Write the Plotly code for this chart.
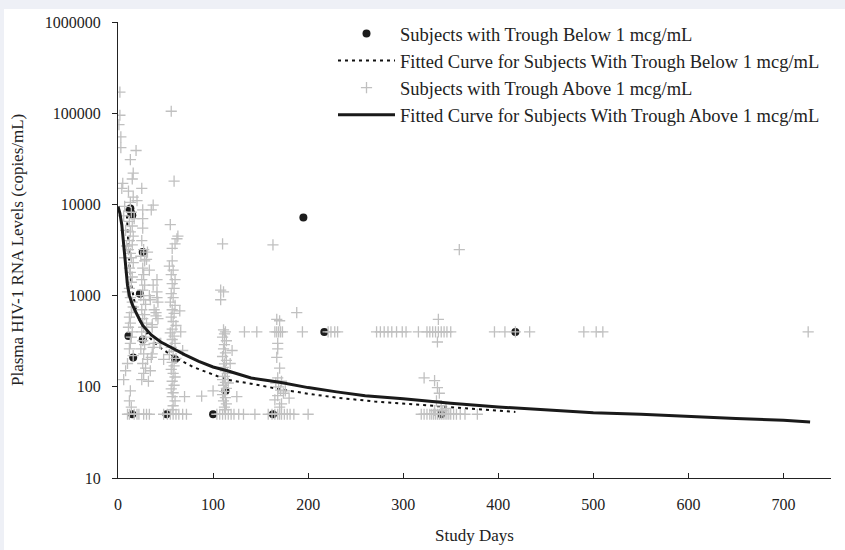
import plotly.graph_objects as go

# ---------------- data ----------------
below_days = [13, 14, 15, 26, 23, 11, 26, 16, 15, 51, 60, 100, 113, 163, 195, 217, 418, 340]
below_vals = [9000, 8000, 7600, 3000, 1050, 360, 330, 210, 50, 50, 200, 50, 90, 50, 7200, 400, 400, 50]

fit_below_days = [9, 10, 12, 14, 17, 20, 25, 34, 44, 60, 79, 100, 114, 140, 173, 200, 230, 270, 314, 366, 418]
fit_below_vals = [9000, 5000, 2200, 1300, 850, 620, 470, 340, 270, 210, 165, 135, 120, 108, 93, 84, 76, 69, 64, 58, 53]

above_days = [
    # days 0-20
    2, 2, 1, 3, 3, 19, 13, 16, 15, 5, 4, 11, 16, 13, 20, 7, 14, 17, 12, 15, 13, 16, 12, 15, 11, 13, 14, 16,
    12, 13, 15, 14, 12, 10, 13, 15, 16, 14, 12, 13, 11, 15, 14, 13, 12, 16, 10, 8, 6, 13, 12, 14, 10, 12, 17, 20,
    6, 8, 9, 7,
    # days 22-45
    25, 26, 35, 26, 26, 25, 27, 24, 28, 26, 27, 25, 28, 26, 24, 27, 29, 25, 28, 26, 30, 27, 25, 29, 26, 28, 24, 27,
    31, 26, 29, 27, 25, 32, 35, 38, 36, 40, 33, 22, 27, 30, 33, 41, 42, 30, 33, 37, 34, 40, 42, 36, 38, 44, 31,
    37, 41, 41, 37, 36, 34,
    # days 45-90
    56, 59, 55, 63, 62, 60, 57, 57, 54, 58, 56, 60, 57, 59, 56, 58, 55, 60, 57, 65, 59, 56, 58, 61, 57, 55, 59, 57,
    60, 56, 58, 54, 61, 57, 59, 56, 58, 60, 57, 59, 56, 58, 57, 60, 58, 57, 48, 52, 55, 58, 61, 64, 68, 72, 45, 48,
    66, 68, 70, 88,
    # days 100-150
    110, 108, 111, 108, 113, 111, 112, 110, 114, 112, 111, 113, 110, 114, 112, 111, 113, 115, 112, 110, 113, 111,
    114, 112, 110, 113, 111, 114, 112, 113, 104, 107, 110, 113, 116, 119, 122, 127, 132, 144, 133, 146, 120, 118,
    116, 125, 100,
    # days 155-200
    163, 167, 170, 165, 167, 169, 171, 173, 168, 168, 167, 170, 168, 172, 166, 169, 171, 174, 168, 165, 172, 170,
    158, 162, 165, 168, 170, 172, 175, 178, 181, 185, 200, 188, 194, 180, 176,
    # plateau at 400 copies/mL
    221, 224, 228, 231, 272, 276, 280, 284, 288, 293, 299, 303, 316, 325, 328, 331, 334, 337, 340, 343, 346, 350,
    396, 407, 418, 433, 490, 503, 510, 726,
    # days 315-380
    359, 337, 336, 322, 333, 336, 338, 335, 340, 345, 333, 341, 319, 322, 325, 328, 330, 332, 334, 336, 338, 340,
    342, 344, 346, 348, 350, 353, 356, 360, 365, 378,
]
above_vals = [
    # days 0-20
    170000, 95000, 75000, 55000, 42000, 39000, 31000, 22000, 19000, 17000, 15000, 14000, 12000, 10500, 11000, 9500,
    8200, 7000, 6500, 5800, 5000, 4500, 4000, 3600, 3200, 2900, 2600, 2300, 2000, 1800, 1600, 1400, 1200, 1100, 950,
    850, 750, 650, 580, 500, 450, 400, 350, 300, 260, 220, 180, 150, 120, 90, 70, 60, 50, 50, 50, 50,
    7500, 5200, 3500, 2600,
    # days 22-45
    15000, 8700, 8700, 7000, 5500, 4000, 3200, 2700, 2400, 2000, 1700, 1500, 1300, 1150, 1000, 900, 800, 700, 620,
    560, 500, 450, 400, 350, 320, 290, 260, 230, 200, 180, 160, 140, 120, 115, 210, 300, 450, 600, 1000, 50, 50, 50,
    50, 1100, 850, 2500, 1900, 1300, 900, 650, 560, 480, 700, 300, 3000,
    9800, 1500, 950, 270, 230, 150,
    # days 45-90
    105000, 18000, 6000, 4500, 4200, 3700, 3300, 2400, 2100, 1900, 1700, 1500, 1350, 1200, 1050, 950, 850, 780, 700,
    680, 640, 580, 520, 470, 430, 390, 360, 330, 300, 270, 245, 225, 205, 185, 170, 155, 140, 128, 115, 104, 95, 86,
    78, 70, 62, 56, 50, 50, 50, 50, 50, 50, 50, 50, 300, 200,
    400, 250, 78, 79,
    # days 100-150
    3700, 1150, 1100, 900, 400, 420, 380, 350, 320, 290, 260, 235, 215, 195, 178, 163, 150, 140, 130, 120, 112, 104,
    96, 89, 82, 76, 70, 65, 60, 56, 50, 50, 50, 50, 50, 50, 50, 50, 50, 50, 400, 400, 250, 180,
    110, 78, 90,
    # days 155-200
    3600, 550, 530, 400, 400, 400, 400, 400, 300, 260, 210, 160, 125, 115, 110, 100, 92, 85, 80, 72, 65, 60,
    50, 50, 50, 50, 50, 50, 50, 50, 50, 50, 50, 650, 400, 75, 90,
    # plateau at 400 copies/mL
    400, 400, 400, 400, 400, 400, 400, 400, 400, 400, 400, 400, 400, 400, 400, 400, 400, 400, 400, 400, 400, 400,
    400, 400, 400, 400, 400, 400, 400, 400,
    # days 315-380
    3200, 550, 310, 125, 117, 98, 85, 70, 62, 58, 55, 55, 50, 50, 50, 50, 50, 50, 50, 50, 50, 50,
    50, 50, 50, 50, 50, 50, 50, 50, 50, 50,
]

fit_above_days = [0, 2, 4, 6, 8, 10, 12, 15, 20, 26, 35, 45, 56, 70, 85, 100, 115, 140, 170, 200, 230, 260, 300,
                  350, 400, 450, 500, 550, 600, 650, 700, 728]
fit_above_vals = [9500, 8000, 6000, 3500, 2000, 1300, 1000, 800, 620, 470, 370, 310, 270, 225, 190, 165, 150, 125,
                  112, 98, 88, 80, 74, 66, 60, 56, 52, 50, 47, 45, 43, 41]

x_ticks = [0, 100, 200, 300, 400, 500, 600, 700]
y_ticks = [10, 100, 1000, 10000, 100000, 1000000]
y_tick_labels = ["10", "100", "1000", "10000", "100000", "1000000"]

# ---------------- figure ----------------
W, H = 845, 550
L, R, T, B = 118, 14, 22, 72
pw, ph = W - L - R, H - T - B


def px_x(px):
    return (px - L) / pw


def px_y(py):
    return (H - B - py) / ph


FONT = "Liberation Serif, Times New Roman, serif"
INK = "#222222"

fig = go.Figure()
fig.add_trace(go.Scatter(
    x=below_days, y=below_vals, mode="markers",
    name="Subjects with Trough Below 1 mcg/mL",
    marker=dict(symbol="circle", size=8, color="#1c1c1c")))
fig.add_trace(go.Scatter(
    x=fit_below_days, y=fit_below_vals, mode="lines",
    name="Fitted Curve for Subjects With Trough Below 1 mcg/mL",
    line=dict(color="#111111", width=2, dash="3px,4px")))
fig.add_trace(go.Scatter(
    x=above_days, y=above_vals, mode="markers",
    name="Subjects with Trough Above 1 mcg/mL",
    marker=dict(symbol="cross-thin", size=8, color="#c0c0c0", line=dict(color="#c0c0c0", width=1.3))))
fig.add_trace(go.Scatter(
    x=fit_above_days, y=fit_above_vals, mode="lines",
    name="Fitted Curve for Subjects With Trough Above 1 mcg/mL",
    line=dict(color="#1a1a1a", width=3)))

fig.update_layout(
    width=W, height=H,
    margin=dict(l=L, r=R, t=T, b=B, autoexpand=False),
    paper_bgcolor="#eef0f6",
    plot_bgcolor="white",
    font=dict(family=FONT, color=INK, size=16),
    showlegend=True,
    legend=dict(
        x=px_x(333), y=px_y(15), xanchor="left", yanchor="top",
        bgcolor="rgba(0,0,0,0)", font=dict(size=18.5, family=FONT, color=INK),
        itemwidth=57, traceorder="normal",
    ),
    xaxis=dict(
        range=[0, 750], tickvals=x_ticks, ticks="inside", ticklen=5, tickcolor=INK,
        showline=True, linecolor=INK, linewidth=1, showgrid=False, zeroline=False,
        tickfont=dict(size=16), ticklabelstandoff=12, fixedrange=True,
    ),
    yaxis=dict(
        type="log", range=[1, 6], tickvals=y_ticks, ticktext=y_tick_labels,
        ticks="outside", ticklen=5, tickcolor=INK,
        showline=True, linecolor=INK, linewidth=1, showgrid=False, zeroline=False,
        tickfont=dict(size=16), ticklabelstandoff=8, fixedrange=True,
    ),
    shapes=[dict(
        type="rect", xref="paper", yref="paper", layer="below",
        x0=px_x(4), x1=px_x(W + 5), y0=px_y(H + 5), y1=px_y(9),
        fillcolor="white", line=dict(width=0),
    )],
    annotations=[
        dict(text="Plasma HIV-1 RNA Levels (copies/mL)", xref="paper", yref="paper",
             x=px_x(17), y=px_y(250), textangle=-90, showarrow=False,
             xanchor="center", yanchor="middle", font=dict(size=17)),
        dict(text="Study Days", xref="paper", yref="paper",
             x=px_x(474), y=px_y(535), showarrow=False,
             xanchor="center", yanchor="middle", font=dict(size=17)),
    ],
)

fig.write_html("out.html", config={"displayModeBar": False},
               post_script="document.body.style.margin='0';")
